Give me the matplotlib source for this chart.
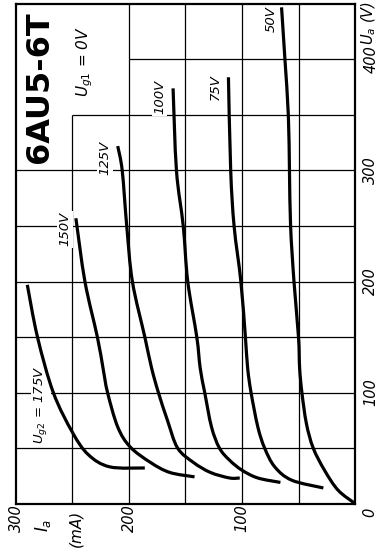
import matplotlib
matplotlib.use("Agg")
import matplotlib.pyplot as plt
from matplotlib.path import Path
from matplotlib.patches import PathPatch
import numpy as np

plt.rcParams['font.family'] = ['DejaVu Sans']
plt.rcParams['mathtext.fontset'] = 'dejavusans'
plt.rcParams['mathtext.default'] = 'it'

# anode current Ia (mA) vs anode voltage Ua (V), Ug1 = 0 V, one curve per Ug2
ua_175 = [197, 150, 100, 64, 44, 33, 32]
ia_175 = [290, 281, 267, 250, 236, 217, 186]

ua_150 = [257, 200, 150, 122, 100, 69, 51, 37, 28, 24]
ia_150 = [247, 239, 228, 223, 219, 210, 199, 181, 164, 142]

ua_125 = [322, 300, 250, 200, 150, 122, 100, 75, 50, 37, 28, 23, 23]
ia_125 = [210, 206, 202, 197, 186, 180, 174, 166, 157, 143, 128, 111, 102]

ua_100 = [374, 300, 250, 200, 150, 122, 100, 69, 50, 39, 30, 23, 19]
ia_100 = [161, 158, 152, 148, 140, 137, 133, 127, 120, 111, 100, 86, 66]

ua_75 = [384, 300, 250, 200, 150, 122, 100, 69, 50, 33, 21, 14]
ia_75 = [112, 110, 107, 101, 97, 95, 92, 86, 80, 71, 56, 28]

ua_50 = [447, 400, 350, 300, 250, 200, 150, 122, 100, 72, 50, 30, 12, 0]
ia_50 = [65, 62, 59, 58, 57, 54, 50, 49, 47, 43, 37, 27, 15, 0]

curves = [(ia_175, ua_175), (ia_150, ua_150), (ia_125, ua_125),
          (ia_100, ua_100), (ia_75, ua_75), (ia_50, ua_50)]

# curve labels: (text, Ia, Ua)
curve_labels = [(r"$U_{g2}$ = 175V", 278, 89), ("150V", 257, 247), ("125V", 221, 311),
                ("100V", 173, 366), ("75V", 124, 375), ("50V", 74, 436)]

ia_ticks = [100, 200, 300]
ua_ticks = [100, 200, 300, 400]
grid_ia = [50, 100, 150, 200, 250]
grid_ua = [50, 100, 150, 200, 250, 300, 350, 400]


def smooth_path(xs, ys):
    # Catmull-Rom through the read points, drawn as cubic Bezier segments
    p = np.column_stack([xs, ys]).astype(float)
    verts = [p[0]]
    codes = [Path.MOVETO]
    n = len(p)
    for i in range(n - 1):
        p0 = p[i - 1] if i > 0 else p[i]
        p3 = p[i + 2] if i + 2 < n else p[i + 1]
        c1 = p[i] + (p[i + 1] - p0) / 6
        c2 = p[i + 1] - (p3 - p[i]) / 6
        verts += [c1, c2, p[i + 1]]
        codes += [Path.CURVE4] * 3
    return Path(verts, codes)


fig = plt.figure(figsize=(3.92, 5.56), dpi=100)
ax = fig.add_axes([16 / 392, 1 - 503.5 / 556, 339 / 392, 499.5 / 556])
ax.set_xlim(300, 0)
ax.set_ylim(0, 450)

# grid, with the corner left open for the type box
for g in grid_ia:
    top = 350 if g == 250 else 450
    ax.vlines(g, 0, top, color='black', lw=0.9, zorder=1)
for g in grid_ua:
    left = 300
    if g == 350:
        left = 250
    elif g == 400:
        left = 200
    ax.hlines(g, 0, left, color='black', lw=0.9, zorder=1)

for ia, ua in curves:
    ax.add_patch(PathPatch(smooth_path(ia, ua), fill=False, edgecolor='black',
                           lw=2.3, capstyle='butt', joinstyle='round', zorder=3))

for txt, x, y in curve_labels:
    ax.text(x, y, txt, rotation=90, ha='center', va='center', fontsize=9.5,
            style='italic', zorder=2,
            bbox=dict(facecolor='white', edgecolor='none', pad=1))

ax.text(279, 375, "6AU5-6T", rotation=90, ha='center', va='center',
        fontsize=23, fontweight='bold', zorder=2)
ax.text(239, 398, r"$U_{g1}$ = 0V", rotation=90, ha='center', va='center',
        fontsize=11, style='italic', zorder=2)

for s in ax.spines.values():
    s.set_linewidth(1.6)

ax.set_xticks(ia_ticks)
ax.set_xticklabels([str(v) for v in ia_ticks], rotation=90, style='italic', fontsize=10.5)
ax.yaxis.tick_right()
ax.set_yticks(ua_ticks)
ax.set_yticklabels([str(v) for v in ua_ticks], rotation=90, style='italic', fontsize=10.5,
                   va='center')
ax.tick_params(length=0, pad=0.5)
ax.tick_params(axis='y', pad=6)

ax.text(-13, -8, "0", rotation=90, ha='center', va='center', fontsize=10.5,
        style='italic', clip_on=False)
ax.text(-12, 433, r"$U_a$ (V)", rotation=90, ha='center', va='center', fontsize=10.5,
        style='italic', clip_on=False)
ax.text(276, -20, r"$I_a$", rotation=90, ha='center', va='center', fontsize=12,
        clip_on=False)
ax.text(247, -22, "(mA)", rotation=90, ha='center', va='center', fontsize=11,
        style='italic', clip_on=False)

fig.savefig("out.png", dpi=100)
